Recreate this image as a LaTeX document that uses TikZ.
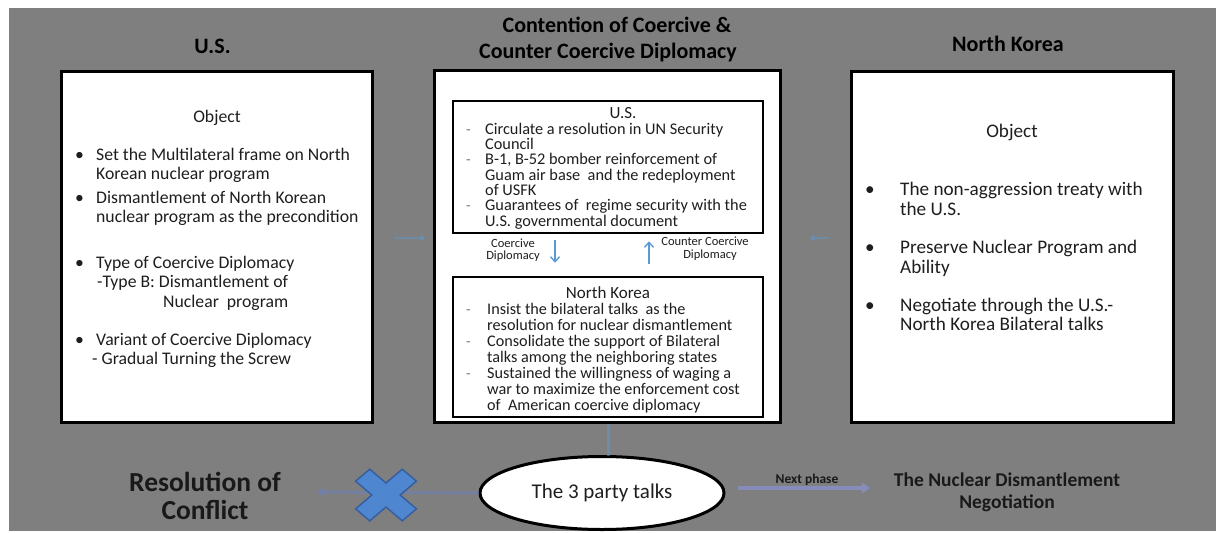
\documentclass[tikz,border=0pt]{standalone}
\usepackage{fontspec}
\setmainfont{Carlito}
\usetikzlibrary{arrows.meta,shapes.geometric}
\definecolor{bg}{RGB}{127,127,127}
\definecolor{txtc}{RGB}{30,30,30}
\definecolor{lblue}{RGB}{91,155,213}
\definecolor{xfill}{RGB}{79,134,208}
\definecolor{xdraw}{RGB}{55,95,160}
\definecolor{faint}{RGB}{110,130,185}
\definecolor{npline}{RGB}{135,140,185}
\newcommand{\myfs}[1]{\fontsize{#1}{#1}\selectfont}
\begin{document}
\begin{tikzpicture}[x=1pt,y=-1pt,
  bigbox/.style={draw=black, line width=3pt, fill=white, inner sep=0pt},
  inbox/.style={draw=black, line width=2.5pt, fill=white, inner sep=0pt},
  ttl/.style={font=\bfseries\myfs{22}, text=black, inner sep=0pt, anchor=base},
  ltxt/.style={font=\myfs{17.7}, text=txtc, inner sep=0pt, anchor=base west},
  rtxt/.style={font=\myfs{19.2}, text=txtc, inner sep=0pt, anchor=base west},
  utxt/.style={font=\myfs{16.3}, text=txtc, inner sep=0pt, anchor=base west},
  ntxt/.style={font=\myfs{16.2}, text=txtc, inner sep=0pt, anchor=base west},
  dsh/.style={font=\myfs{15}, text=black!55, inner sep=0pt, anchor=base west},
  small/.style={font=\myfs{12.5}, text=txtc, inner sep=0pt, anchor=base},
  barrow/.style={draw=lblue, line width=1.4pt, -{Straight Barb[length=5pt,width=9pt]}},
  sidearrow/.style={draw=lblue, opacity=0.45, line width=2.5pt, -{Triangle[length=5pt,width=7pt]}}
]
\useasboundingbox (0,0) rectangle (1216,533);
\fill[white] (0,0) rectangle (1216,533);
\fill[bg] (9,8) rectangle (1216,531);

% titles
\node[ttl] (t1) at (212.5,53) {U.S.};
\node[ttl] (t2a) at (617,32) {Contention of Coercive \&};
\node[ttl] (t2b) at (608,58) {Counter Coercive Diplomacy};
\node[ttl] (t3) at (1008,51) {North Korea};

% main boxes
\node[bigbox, minimum width=311pt, minimum height=351pt] (usbox) at (216.5,246.5) {};
\node[bigbox, minimum width=346pt, minimum height=352pt] (ctr) at (607,246) {};
\node[bigbox, minimum width=322pt, minimum height=351pt] (nkbox) at (1012,246.5) {};
\node[inbox, minimum width=310pt, minimum height=132pt] (usin) at (608,167) {};
\node[inbox, minimum width=310pt, minimum height=140pt] (nkin) at (608,347) {};

% left box text
\node[font=\myfs{17.7}, text=txtc, inner sep=0pt, anchor=base] (lobj) at (217,122) {Object};
\node[ltxt] (lb1) at (75,160) {•};
\node[ltxt] (lb2) at (75,203) {•};
\node[ltxt] (lb3) at (75,268) {•};
\node[ltxt] (lb4) at (75,345) {•};
\node[ltxt] (l1) at (96,160) {Set the Multilateral frame on North};
\node[ltxt] (l2) at (96,179) {Korean nuclear program};
\node[ltxt] (l3) at (96,203) {Dismantlement of North Korean};
\node[ltxt] (l4) at (96,222) {nuclear program as the precondition};
\node[ltxt] (l5) at (96,268) {Type of Coercive Diplomacy};
\node[ltxt] (l6) at (97,287) {-Type B: Dismantlement of};
\node[ltxt] (l7) at (163,307) {Nuclear\ \ program};
\node[ltxt] (l8) at (96,345) {Variant of Coercive Diplomacy};
\node[ltxt] (l9) at (92,364) {- Gradual Turning the Screw};

% right box text
\node[font=\myfs{19.2}, text=txtc, inner sep=0pt, anchor=base] (robj) at (1012,137) {Object};
\node[rtxt] (rb1) at (865,195) {•};
\node[rtxt] (rb2) at (865,253) {•};
\node[rtxt] (rb3) at (865,311) {•};
\node[rtxt] (r1) at (900,195) {The non-aggression treaty with};
\node[rtxt] (r2) at (900,215) {the U.S.};
\node[rtxt] (r3) at (900,253) {Preserve Nuclear Program and};
\node[rtxt] (r4) at (900,273) {Ability};
\node[rtxt] (r5) at (900,311) {Negotiate through the U.S.-};
\node[rtxt] (r6) at (900,330) {North Korea Bilateral talks};

% center US box text
\node[font=\myfs{17}, text=txtc, inner sep=0pt, anchor=base] (ust) at (623,118.5) {U.S.};
\node[dsh] (ud1) at (466,134) {-};
\node[dsh] (ud2) at (466,164.6) {-};
\node[dsh] (ud3) at (466,210.5) {-};
\node[utxt] (u1) at (485,134) {Circulate a resolution in UN Security};
\node[utxt] (u2) at (485,149.3) {Council};
\node[utxt] (u3) at (485,164.6) {B-1, B-52 bomber reinforcement of};
\node[utxt] (u4) at (485,180) {Guam air base\ \ and the redeployment};
\node[utxt] (u5) at (485,195.2) {of USFK};
\node[utxt] (u6) at (485,210.5) {Guarantees of\ \ regime security with the};
\node[utxt] (u7) at (485,226) {U.S. governmental document};

% center NK box text
\node[font=\myfs{17}, text=txtc, inner sep=0pt, anchor=base] (nkt) at (608,298) {North Korea};
\node[dsh] (nd1) at (466,314) {-};
\node[dsh] (nd2) at (466,346) {-};
\node[dsh] (nd3) at (466,378) {-};
\node[ntxt] (n1) at (487,314) {Insist the bilateral talks\ \ as the};
\node[ntxt] (n2) at (487,330) {resolution for nuclear dismantlement};
\node[ntxt] (n3) at (487,346) {Consolidate the support of Bilateral};
\node[ntxt] (n4) at (487,362) {talks among the neighboring states};
\node[ntxt] (n5) at (487,378) {Sustained the willingness of waging a};
\node[ntxt] (n6) at (487,394) {war to maximize the enforcement cost};
\node[ntxt] (n7) at (487,410) {of\ \ American coercive diplomacy};

% coercive / counter coercive labels and arrows
\node[small] (cd1) at (513,247) {Coercive};
\node[small] (cd2) at (513,259) {Diplomacy};
\node[small] (cc1) at (705,245) {Counter Coercive};
\node[small] (cc2) at (710,258) {Diplomacy};
\draw[barrow, shorten <=6pt, shorten >=13pt] ([xshift=-53pt]usin.south) -- ([xshift=-53pt]nkin.north);
\draw[barrow, shorten <=12pt, shorten >=7pt] ([xshift=41pt]nkin.north) -- ([xshift=41pt]usin.south);

% faint side arrows
\draw[sidearrow, shorten <=20pt, shorten >=7pt] ([yshift=8.5pt]usbox.east) -- ([yshift=8.5pt]usbox.east -| ctr.west);
\draw[sidearrow, shorten <=21pt, shorten >=28pt] ([yshift=8.5pt]nkbox.west) -- ([yshift=8.5pt]nkbox.west -| ctr.east);

% bottom row
\node[ellipse, draw=black, line width=3pt, fill=white, minimum width=244pt, minimum height=73pt, inner sep=0pt, font=\myfs{21}, text=txtc] (talks) at (602,493) {The 3 party talks};
\draw[draw=lblue, opacity=0.5, line width=3pt] (ctr.south -| 608,0) -- (608,456);

\coordinate (resarrow) at (317,492);
\draw[draw=faint, opacity=0.6, line width=3pt, -{Triangle[length=6pt,width=8pt]}] (talks.west) -- (resarrow);

\begin{scope}[shift={(386,495)}, yscale=0.85, rotate=45]
  \filldraw[fill=xfill, draw=xdraw, line width=1.5pt]
    (10,33) -- (10,10) -- (33,10) -- (33,-10) -- (10,-10) -- (10,-33) -- (-10,-33) -- (-10,-10)
    -- (-33,-10) -- (-33,10) -- (-10,10) -- (-10,33) -- cycle;
\end{scope}

\node[font=\bfseries\myfs{27.5}, text=black!90, inner sep=0pt, anchor=base] (res1) at (205,491) {Resolution of};
\node[font=\bfseries\myfs{27.5}, text=black!90, inner sep=0pt, anchor=base] (res2) at (205,519) {Conflict};

\node[font=\bfseries\myfs{19.5}, text=black!90, inner sep=0pt, anchor=base] (nuc1) at (1007,486) {The Nuclear Dismantlement};
\node[font=\bfseries\myfs{19.5}, text=black!90, inner sep=0pt, anchor=base] (nuc2) at (1007,508) {Negotiation};

\node[font=\bfseries\myfs{13.5}, text=black!90, inner sep=0pt, anchor=base] (np) at (807,483) {Next phase};
\draw[draw=npline, line width=4pt, -{Triangle[length=8pt,width=11pt]}, shorten <=12pt, shorten >=24pt] ([yshift=5pt]talks.east) -- ([yshift=5pt]talks.east -| nuc1.west);
\end{tikzpicture}
\end{document}
